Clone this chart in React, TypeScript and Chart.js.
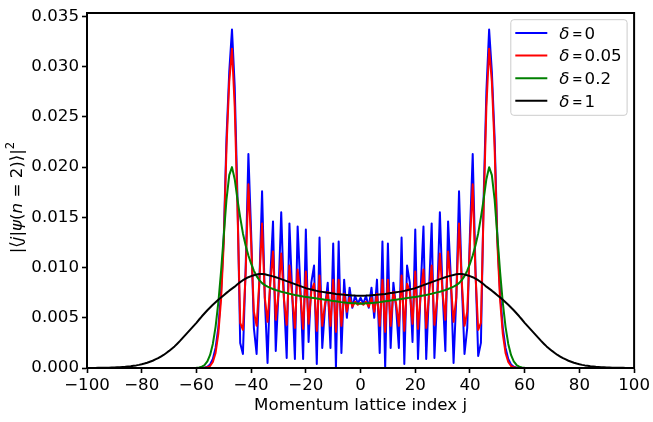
import React, { useEffect, useRef } from "react";
import { Chart, registerables } from "chart.js";

Chart.register(...registerables);

// Momentum lattice index j
const J = [
  -100, -99, -98, -97, -96, -95, -94, -93, -92, -91,
  -90, -89, -88, -87, -86, -85, -84, -83, -82, -81,
  -80, -79, -78, -77, -76, -75, -74, -73, -72, -71,
  -70, -69, -68, -67, -66, -65, -64, -63, -62, -61,
  -60, -59, -58, -57, -56, -55, -54, -53, -52, -51,
  -50, -49, -48, -47, -46, -45, -44, -43, -42, -41,
  -40, -39, -38, -37, -36, -35, -34, -33, -32, -31,
  -30, -29, -28, -27, -26, -25, -24, -23, -22, -21,
  -20, -19, -18, -17, -16, -15, -14, -13, -12, -11,
  -10, -9, -8, -7, -6, -5, -4, -3, -2, -1,
  0,
  1, 2, 3, 4, 5, 6, 7, 8, 9, 10,
  11, 12, 13, 14, 15, 16, 17, 18, 19, 20,
  21, 22, 23, 24, 25, 26, 27, 28, 29, 30,
  31, 32, 33, 34, 35, 36, 37, 38, 39, 40,
  41, 42, 43, 44, 45, 46, 47, 48, 49, 50,
  51, 52, 53, 54, 55, 56, 57, 58, 59, 60,
  61, 62, 63, 64, 65, 66, 67, 68, 69, 70,
  71, 72, 73, 74, 75, 76, 77, 78, 79, 80,
  81, 82, 83, 84, 85, 86, 87, 88, 89, 90,
  91, 92, 93, 94, 95, 96, 97, 98, 99, 100,
];

// |<j|psi(n=2)>|^2 in units of 1e-3, one value per j above
const PROB_D0 = [
  0, 0, 0, 0, 0, 0, 0, 0, 0, 0,
  0, 0, 0, 0, 0, 0, 0, 0, 0, 0,
  0, 0, 0, 0, 0, 0, 0, 0, 0, 0,
  0, 0, 0, 0, 0, 0, 0, 0, 0, 0,
  0, 0, 0.01, 0.04, 0.12, 0.35, 0.9, 2.0, 4.0, 7.5,
  13.0, 23.0, 29.5, 33.7, 28.0, 17.0, 2.5, 1.4, 10.0, 21.3,
  13.5, 4.0, 1.4, 8.5, 17.6, 7.0, 0.5, 9.0, 14.6, 1.7,
  7.5, 15.5, 7.0, 1.0, 14.4, 7.5, 0.9, 14.1, 8.0, 0.9,
  13.8, 2.6, 8.5, 10.2, 0.4, 13.0, 2.0, 6.0, 8.5, 2.0,
  12.4, 0.0, 12.6, 1.5, 8.8, 5.0, 8.0, 6.0, 7.2, 6.4,
  7.0,
  6.4, 7.2, 6.0, 8.0, 5.0, 8.8, 1.5, 12.6, 0.0, 12.4,
  2.0, 8.5, 6.0, 2.0, 13.0, 0.4, 10.2, 8.5, 2.6, 13.8,
  0.9, 8.0, 14.1, 0.9, 7.5, 14.4, 1.0, 7.0, 15.5, 7.5,
  1.7, 14.6, 9.0, 0.5, 7.0, 17.6, 8.5, 1.4, 4.0, 13.5,
  21.3, 10.0, 1.2, 2.5, 17.0, 27.5, 33.7, 29.5, 23.0, 13.0,
  7.5, 4.0, 2.0, 0.9, 0.35, 0.12, 0.04, 0.01, 0, 0,
  0, 0, 0, 0, 0, 0, 0, 0, 0, 0,
  0, 0, 0, 0, 0, 0, 0, 0, 0, 0,
  0, 0, 0, 0, 0, 0, 0, 0, 0, 0,
  0, 0, 0, 0, 0, 0, 0, 0, 0, 0,
];

const PROB_D005 = [
  0, 0, 0, 0, 0, 0, 0, 0, 0, 0,
  0, 0, 0, 0, 0, 0, 0, 0, 0, 0,
  0, 0, 0, 0, 0, 0, 0, 0, 0, 0,
  0, 0, 0, 0, 0, 0, 0, 0, 0, 0,
  0, 0, 0, 0.02, 0.07, 0.2, 0.6, 1.5, 3.4, 6.8,
  12.5, 22.0, 28.5, 31.8, 26.0, 16.0, 4.5, 3.8, 9.5, 18.3,
  12.5, 5.6, 4.2, 8.6, 14.4, 7.0, 4.6, 8.4, 11.6, 4.8,
  7.4, 11.4, 6.8, 4.3, 10.2, 7.2, 4.0, 9.8, 7.4, 3.9,
  9.6, 4.4, 7.6, 8.4, 3.7, 9.2, 4.2, 6.4, 7.6, 4.2,
  8.8, 3.6, 8.8, 4.2, 7.4, 5.6, 7.0, 6.1, 6.6, 6.3,
  6.5,
  6.3, 6.6, 6.1, 7.0, 5.6, 7.4, 4.2, 8.8, 3.6, 8.8,
  4.2, 7.6, 6.4, 4.2, 9.2, 3.7, 8.4, 7.6, 4.4, 9.6,
  3.9, 7.4, 9.8, 4.0, 7.2, 10.2, 4.3, 6.8, 11.4, 7.4,
  4.8, 11.6, 8.4, 4.6, 7.0, 14.4, 8.6, 4.2, 5.6, 12.5,
  18.3, 9.5, 3.8, 4.5, 16.0, 26.0, 31.8, 28.5, 22.0, 12.5,
  6.8, 3.4, 1.5, 0.6, 0.2, 0.07, 0.02, 0, 0, 0,
  0, 0, 0, 0, 0, 0, 0, 0, 0, 0,
  0, 0, 0, 0, 0, 0, 0, 0, 0, 0,
  0, 0, 0, 0, 0, 0, 0, 0, 0, 0,
  0, 0, 0, 0, 0, 0, 0, 0, 0, 0,
];

const PROB_D02 = [
  0, 0, 0, 0, 0, 0, 0, 0, 0, 0,
  0, 0, 0, 0, 0, 0, 0, 0, 0, 0,
  0, 0, 0, 0, 0, 0, 0, 0, 0, 0,
  0, 0, 0, 0, 0, 0, 0, 0, 0, 0.004,
  0.015, 0.05, 0.13, 0.3, 0.65, 1.3, 2.4, 4.1, 6.5, 9.6,
  13.2, 16.8, 19.2, 20.0, 18.8, 16.8, 15.0, 13.4, 12.2, 11.2,
  10.4, 9.7, 9.15, 8.75, 8.45, 8.25, 8.1, 7.98, 7.87, 7.77,
  7.68, 7.6, 7.53, 7.46, 7.39, 7.33, 7.27, 7.22, 7.17, 7.12,
  7.08, 7.04, 7.0, 6.96, 6.92, 6.88, 6.84, 6.8, 6.76, 6.72,
  6.68, 6.64, 6.6, 6.56, 6.53, 6.5, 6.48, 6.46, 6.44, 6.42,
  6.4,
  6.42, 6.44, 6.46, 6.48, 6.5, 6.53, 6.56, 6.6, 6.64, 6.68,
  6.72, 6.76, 6.8, 6.84, 6.88, 6.92, 6.96, 7.0, 7.04, 7.08,
  7.12, 7.17, 7.22, 7.27, 7.33, 7.39, 7.46, 7.53, 7.6, 7.68,
  7.77, 7.87, 7.98, 8.1, 8.25, 8.45, 8.75, 9.15, 9.7, 10.4,
  11.2, 12.2, 13.4, 15.0, 16.8, 18.8, 20.0, 19.2, 16.8, 13.2,
  9.6, 6.5, 4.1, 2.4, 1.3, 0.65, 0.3, 0.13, 0.05, 0.015,
  0.004, 0, 0, 0, 0, 0, 0, 0, 0, 0,
  0, 0, 0, 0, 0, 0, 0, 0, 0, 0,
  0, 0, 0, 0, 0, 0, 0, 0, 0, 0,
  0, 0, 0, 0, 0, 0, 0, 0, 0, 0,
];

const PROB_D1 = [
  0.005, 0.006, 0.008, 0.01, 0.013, 0.017, 0.021, 0.027, 0.033, 0.04,
  0.05, 0.065, 0.08, 0.1, 0.12, 0.15, 0.18, 0.22, 0.26, 0.31,
  0.37, 0.44, 0.52, 0.62, 0.72, 0.85, 0.98, 1.14, 1.3, 1.5,
  1.7, 1.92, 2.15, 2.42, 2.7, 3.0, 3.3, 3.6, 3.9, 4.2,
  4.5, 4.83, 5.15, 5.45, 5.75, 6.03, 6.3, 6.55, 6.8, 7.03,
  7.25, 7.48, 7.7, 7.9, 8.1, 8.33, 8.55, 8.74, 8.9, 9.04,
  9.15, 9.24, 9.3, 9.35, 9.36, 9.33, 9.27, 9.2, 9.12, 9.04,
  8.95, 8.85, 8.75, 8.65, 8.55, 8.45, 8.35, 8.25, 8.15, 8.05,
  7.95, 7.88, 7.81, 7.74, 7.68, 7.62, 7.58, 7.54, 7.5, 7.46,
  7.42, 7.38, 7.35, 7.32, 7.29, 7.27, 7.25, 7.23, 7.21, 7.2,
  7.2,
  7.2, 7.21, 7.23, 7.25, 7.27, 7.29, 7.32, 7.35, 7.38, 7.42,
  7.46, 7.5, 7.54, 7.58, 7.62, 7.68, 7.74, 7.81, 7.88, 7.95,
  8.05, 8.15, 8.25, 8.35, 8.45, 8.55, 8.65, 8.75, 8.85, 8.95,
  9.04, 9.12, 9.2, 9.27, 9.33, 9.36, 9.35, 9.3, 9.24, 9.15,
  9.04, 8.9, 8.74, 8.55, 8.33, 8.1, 7.9, 7.7, 7.48, 7.25,
  7.03, 6.8, 6.55, 6.3, 6.03, 5.75, 5.45, 5.15, 4.83, 4.5,
  4.2, 3.9, 3.6, 3.3, 3.0, 2.7, 2.42, 2.15, 1.92, 1.7,
  1.5, 1.3, 1.14, 0.98, 0.85, 0.72, 0.62, 0.52, 0.44, 0.37,
  0.31, 0.26, 0.22, 0.18, 0.15, 0.12, 0.1, 0.08, 0.065, 0.05,
  0.04, 0.033, 0.027, 0.021, 0.017, 0.013, 0.01, 0.008, 0.006, 0.005,
];

const SERIES = [PROB_D0, PROB_D005, PROB_D02, PROB_D1];
const DELTAS = ["0", "0.05", "0.2", "1"];
const COLORS = ["#0000ff", "#ff0000", "#008000", "#000000"];

const X_TICKS = [-100, -80, -60, -40, -20, 0, 20, 40, 60, 80, 100];
const Y_TICKS = [0, 0.005, 0.01, 0.015, 0.02, 0.025, 0.03, 0.035];
const X_MIN = -100;
const X_MAX = 100;
const Y_MIN = 0;
const Y_MAX = 0.03535;
const X_TITLE = "Momentum lattice index j";

const FAMILY = "'DejaVu Sans', sans-serif";
const FS = 16.67;

function fmtX(v: number) {
  return v < 0 ? "\u2212" + Math.abs(v) : String(v);
}
function fmtY(v: number) {
  return Number(v).toFixed(3);
}

const framePlugin = {
  id: "frame",
  afterDatasetsDraw(chart: any) {
    const { ctx, chartArea: a } = chart;
    ctx.save();
    ctx.strokeStyle = "#000";
    ctx.lineWidth = 2;
    ctx.strokeRect(a.left, a.top, a.right - a.left, a.bottom - a.top);
    ctx.restore();
  },
};

const titlePlugin = {
  id: "titles",
  afterDraw(chart: any) {
    const { ctx, chartArea: a } = chart;
    ctx.save();
    ctx.fillStyle = "#000";
    // x title
    ctx.font = `${FS}px ${FAMILY}`;
    ctx.textAlign = "center";
    ctx.textBaseline = "alphabetic";
    ctx.fillText(X_TITLE, (a.left + a.right) / 2, 410);

    // y title (mixed italic), rotated
    const segs: [string, string][] = [
      ["|\u27E8", "n"],
      ["j", "i"],
      ["|", "n"],
      ["\u03C8", "i"],
      ["(", "n"],
      ["n", "i"],
      [" = 2)\u27E9|", "n"],
      ["2", "s"],
    ];
    const fontOf = (k: string) =>
      k === "i" ? `italic ${FS}px ${FAMILY}` : k === "s" ? `${FS * 0.7}px ${FAMILY}` : `${FS}px ${FAMILY}`;
    let total = 0;
    const widths = segs.map(([t, k]) => {
      ctx.font = fontOf(k);
      const w = ctx.measureText(t).width;
      total += w;
      return w;
    });
    ctx.translate(22, 197.5);
    ctx.rotate(-Math.PI / 2);
    ctx.textAlign = "left";
    let x = -total / 2;
    segs.forEach(([t, k], i) => {
      ctx.font = fontOf(k);
      ctx.fillText(t, x, k === "s" ? -FS * 0.45 : 0);
      x += widths[i];
    });
    ctx.restore();
  },
};

const legendPlugin = {
  id: "mplLegend",
  afterDraw(chart: any) {
    const { ctx, chartArea: a } = chart;
    const boxR = a.right - 7;
    const boxT = a.top + 6.7;
    const boxW = 116.3;
    const boxH = 95.6;
    const boxL = boxR - boxW;
    ctx.save();
    ctx.beginPath();
    const r = 3;
    ctx.moveTo(boxL + r, boxT);
    ctx.lineTo(boxR - r, boxT);
    ctx.arcTo(boxR, boxT, boxR, boxT + r, r);
    ctx.lineTo(boxR, boxT + boxH - r);
    ctx.arcTo(boxR, boxT + boxH, boxR - r, boxT + boxH, r);
    ctx.lineTo(boxL + r, boxT + boxH);
    ctx.arcTo(boxL, boxT + boxH, boxL, boxT + boxH - r, r);
    ctx.lineTo(boxL, boxT + r);
    ctx.arcTo(boxL, boxT, boxL + r, boxT, r);
    ctx.closePath();
    ctx.fillStyle = "rgba(255,255,255,0.8)";
    ctx.fill();
    ctx.strokeStyle = "#cccccc";
    ctx.lineWidth = 1;
    ctx.stroke();

    chart.data.datasets.forEach((ds: any, i: number) => {
      const y = boxT + 13.3 + i * 22.6;
      ctx.strokeStyle = ds.borderColor;
      ctx.lineWidth = 2;
      ctx.beginPath();
      ctx.moveTo(boxL + 4.5, y);
      ctx.lineTo(boxL + 36.5, y);
      ctx.stroke();
      const base = y + 5.8;
      ctx.fillStyle = "#000";
      ctx.textBaseline = "alphabetic";
      ctx.textAlign = "left";
      ctx.font = `italic ${FS}px ${FAMILY}`;
      ctx.fillText("\u03B4", boxL + 48.5, base);
      ctx.font = `${FS}px ${FAMILY}`;
      ctx.save();
      ctx.translate(boxL + 66.5, base);
      ctx.scale(0.76, 1);
      ctx.textAlign = "center";
      ctx.fillText("=", 0, 0);
      ctx.restore();
      ctx.textAlign = "left";
      ctx.fillText(DELTAS[i], boxL + 73.8, base);
    });
    ctx.restore();
  },
};

export default function App() {
  const ref = useRef<HTMLCanvasElement | null>(null);

  useEffect(() => {
    if (!ref.current) return;
    const tickFont = { family: FAMILY, size: FS };
    const chart = new Chart(ref.current, {
      type: "line",
      data: {
        datasets: SERIES.map((vals, k) => ({
          label: "\u03B4 = " + DELTAS[k],
          data: J.map((j, i) => ({ x: j, y: vals[i] * 1e-3 })),
          borderColor: COLORS[k],
          backgroundColor: COLORS[k],
          borderWidth: 2,
          pointRadius: 0,
          pointHoverRadius: 0,
          tension: 0,
          borderJoinStyle: "round",
          borderCapStyle: "butt",
          fill: false,
          order: 3 - k,
        })),
      },
      options: {
        animation: false,
        responsive: false,
        devicePixelRatio: 1,
        events: [],
        layout: { padding: { top: 5, right: 17, left: 0, bottom: 0 } },
        plugins: { legend: { display: false }, tooltip: { enabled: false }, title: { display: false } },
        scales: {
          x: {
            type: "linear",
            min: X_MIN,
            max: X_MAX,
            afterBuildTicks: (s: any) => {
              s.ticks = X_TICKS.map((v) => ({ value: v }));
            },
            afterFit: (s: any) => {
              s.height = 54;
            },
            ticks: {
              callback: (v: any) => fmtX(Number(v)),
              font: tickFont,
              color: "#000",
              padding: 3,
              maxRotation: 0,
              autoSkip: false,
            },
            grid: {
              display: true,
              drawOnChartArea: false,
              drawTicks: true,
              tickLength: 5,
              tickWidth: 1.6,
              tickColor: "#000",
            },
            border: { display: true, color: "#000", width: 2 },
          },
          y: {
            type: "linear",
            min: Y_MIN,
            max: Y_MAX,
            afterBuildTicks: (s: any) => {
              s.ticks = Y_TICKS.map((v) => ({ value: v }));
            },
            afterFit: (s: any) => {
              s.width = 87;
            },
            ticks: {
              callback: (v: any) => fmtY(Number(v)),
              font: tickFont,
              color: "#000",
              padding: 3,
              autoSkip: false,
            },
            grid: {
              display: true,
              drawOnChartArea: false,
              drawTicks: true,
              tickLength: 5,
              tickWidth: 1.6,
              tickColor: "#000",
            },
            border: { display: true, color: "#000", width: 2 },
          },
        },
      } as any,
      plugins: [framePlugin, titlePlugin, legendPlugin],
    } as any);
    return () => chart.destroy();
  }, []);

  return (
    <div style={{ position: "fixed", left: 0, top: 0, width: 653, height: 422, background: "#fff" }}>
      <canvas ref={ref} width={653} height={422} style={{ display: "block" }} />
    </div>
  );
}
